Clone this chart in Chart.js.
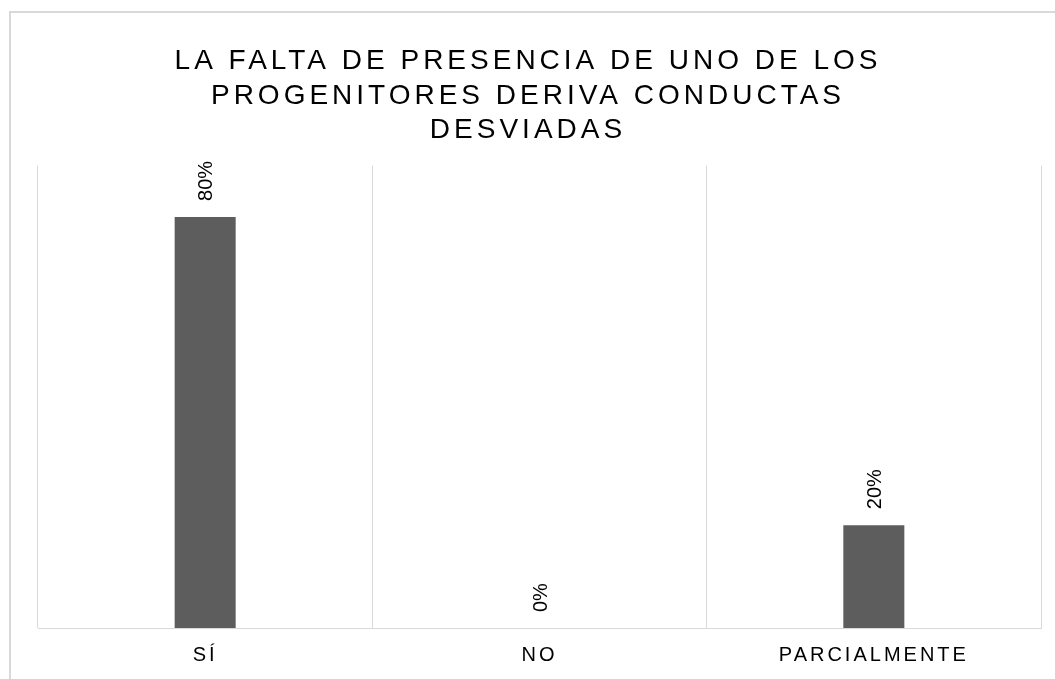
<!DOCTYPE html>
<html>
<head>
<meta charset="utf-8">
<script src="https://cdn.jsdelivr.net/npm/chart.js@4/dist/chart.umd.min.js"></script>
<style>
  html, body { margin: 0; padding: 0; background: #fff; }
  #wrap { width: 1055px; height: 679px; position: relative; }
</style>
</head>
<body>
<div id="wrap"><canvas id="chart" width="1055" height="679"></canvas></div>
<script>
// datos del gráfico
const titleLines = ['LA FALTA DE PRESENCIA DE UNO DE LOS', 'PROGENITORES DERIVA CONDUCTAS', 'DESVIADAS'];
const categories = ['SÍ', 'NO', 'PARCIALMENTE'];
const values = [0.8, 0, 0.2];
const valueLabels = ['80%', '0%', '20%'];
const axisMax = 0.9;

const FONT = '"Liberation Sans", Arial, sans-serif';

// marco exterior + espaciado de letras para las etiquetas del eje
const framePlugin = {
    id: 'frame',
    beforeDraw(chart) {
        const ctx = chart.ctx;
        ctx.save();
        ctx.strokeStyle = '#d9d9d9';
        ctx.lineWidth = 2;
        ctx.strokeRect(10, 12, 2000, 2000);
        ctx.restore();
        ctx.letterSpacing = '3px';
    }
};

// título en tres líneas con espaciado
const titlePlugin = {
    id: 'titleLines',
    afterDraw(chart) {
        const ctx = chart.ctx;
        ctx.save();
        ctx.letterSpacing = '4px';
        ctx.font = '28px ' + FONT;
        ctx.fillStyle = '#000';
        ctx.textAlign = 'center';
        ctx.textBaseline = 'alphabetic';
        titleLines.forEach((line, i) => {
            ctx.fillText(line, 528, 69 + i * 34.5);
        });
        ctx.restore();
    }
};

// etiquetas de valor giradas
const labelPlugin = {
    id: 'valueLabels',
    afterDatasetsDraw(chart) {
        const ctx = chart.ctx;
        const meta = chart.getDatasetMeta(0);
        ctx.save();
        ctx.letterSpacing = '0px';
        ctx.font = '20px ' + FONT;
        ctx.fillStyle = '#000';
        meta.data.forEach((bar, i) => {
            ctx.save();
            ctx.translate(bar.x + 7, bar.y - 16);
            ctx.rotate(-Math.PI / 2);
            ctx.textAlign = 'left';
            ctx.textBaseline = 'alphabetic';
            ctx.fillText(valueLabels[i], 0, 0);
            ctx.restore();
        });
        ctx.restore();
    }
};

const ctx = document.getElementById('chart').getContext('2d');
new Chart(ctx, {
    type: 'bar',
    data: {
        labels: categories,
        datasets: [{
            data: values,
            backgroundColor: '#5d5d5d',
            borderWidth: 0,
            categoryPercentage: 1,
            barPercentage: 0.1825
        }]
    },
    options: {
        responsive: false,
        animation: false,
        layout: { padding: { top: 165.6, left: 38, right: 14, bottom: 0 } },
        plugins: {
            legend: { display: false },
            tooltip: { enabled: false },
            title: { display: false }
        },
        scales: {
            x: {
                grid: { offset: true, color: '#d9d9d9', lineWidth: 1, drawTicks: false },
                border: { display: true, color: '#d9d9d9', width: 1 },
                ticks: {
                    color: '#000',
                    font: { family: FONT, size: 20 },
                    padding: 15,
                    maxRotation: 0
                },
                afterFit(scale) { scale.height = 51; }
            },
            y: {
                display: false,
                min: 0,
                max: axisMax
            }
        }
    },
    plugins: [framePlugin, titlePlugin, labelPlugin]
});
</script>
</body>
</html>
